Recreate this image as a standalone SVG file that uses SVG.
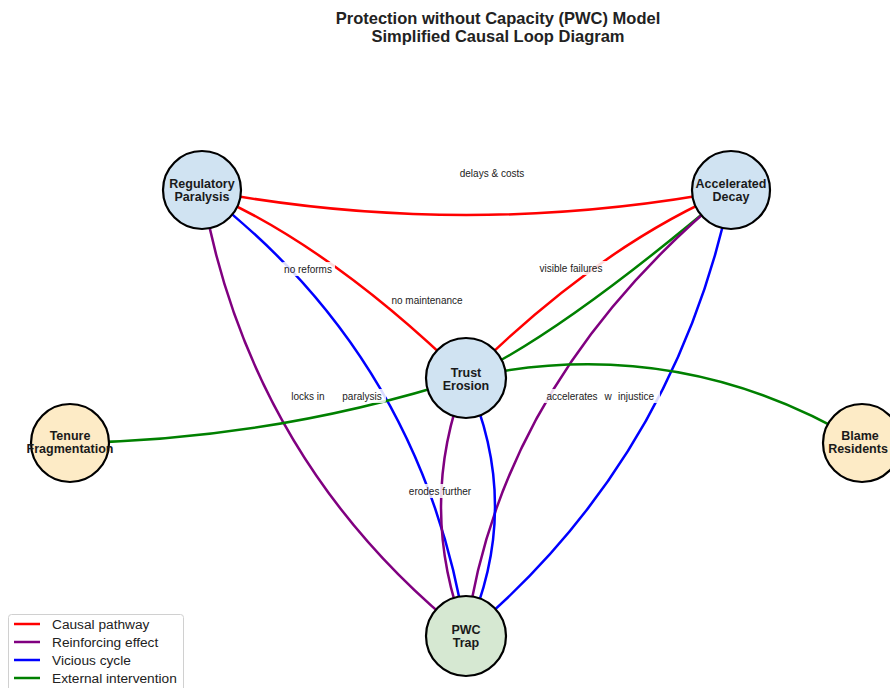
<svg xmlns="http://www.w3.org/2000/svg" width="890" height="688" viewBox="0 0 890 688">
<style>
.e{fill:none;stroke-width:2.5}
.red{stroke:#ff0000}.pur{stroke:#800080}.blu{stroke:#0000ff}.grn{stroke:#008000}
.lbl{font-family:"Liberation Sans",Arial,sans-serif;font-size:10px;fill:#222;text-anchor:middle}
.lb{fill:#fff;opacity:0.85}
.nc{stroke:#000;stroke-width:2.2}
.nt{font-family:"Liberation Sans",Arial,sans-serif;font-size:12.5px;font-weight:bold;fill:#1a1a1a;text-anchor:middle}
.blue{fill:#d0e3f2}.tan{fill:#fdebc6}.grnf{fill:#d6e8d2}
.title{font-family:"Liberation Sans",Arial,sans-serif;font-size:16.5px;font-weight:bold;fill:#222;text-anchor:middle}
.lg{font-family:"Liberation Sans",Arial,sans-serif;font-size:13.7px;fill:#222}
</style>
<rect width="890" height="688" fill="#fff"/>
<g id="title">
<text class="title" x="498" y="24">Protection without Capacity (PWC) Model</text>
<text class="title" x="498" y="42">Simplified Causal Loop Diagram</text>
</g>
<g id="connectors">
<path class="e red" d="M202,190 Q466,240 731,190"/>
<path class="e red" d="M202,190 Q330,245 466,378"/>
<path class="e red" d="M731,190 Q600,245 466,378"/>
<path class="e grn" d="M731,190 Q559,336 466,378"/>
<path class="e pur" d="M731,190 Q500,380 466,635"/>
<path class="e blu" d="M731,190 Q676,459 466,635"/>
<path class="e blu" d="M202,190 Q423.5,359.5 466,635"/>
<path class="e pur" d="M202,190 Q250,462.5 466,635"/>
<path class="e pur" d="M466,378 Q416,506 466,635"/>
<path class="e blu" d="M466,378 Q524,506 466,635"/>
<path class="e grn" d="M70,443 Q273,440 466,378"/>
<path class="e grn" d="M466,378 Q677,331.5 862,443"/>
</g>
<g id="labels">
<text class="lbl" x="492" y="177">delays &amp; costs</text>
<rect class="lb" x="281" y="262" width="54" height="14" rx="3"/>
<text class="lbl" x="308" y="272.5">no reforms</text>
<rect class="lb" x="388" y="293" width="78" height="14" rx="3"/>
<text class="lbl" x="427" y="303.5">no maintenance</text>
<rect class="lb" x="534" y="261" width="75" height="14" rx="3"/>
<text class="lbl" x="571" y="271.5">visible failures</text>
<rect class="lb" x="287" y="389" width="99" height="14" rx="3"/>
<text class="lbl" x="308" y="399.5">locks in</text>
<text class="lbl" x="362" y="399.5">paralysis</text>
<rect class="lb" x="542" y="389" width="118" height="14" rx="3"/>
<text class="lbl" x="572" y="399.5">accelerates</text>
<text class="lbl" x="608" y="399.5">w</text>
<text class="lbl" x="636" y="399.5">injustice</text>
<rect class="lb" x="404" y="484" width="72" height="14" rx="3"/>
<text class="lbl" x="440" y="494.5">erodes further</text>
</g>
<g id="node-regulatory-paralysis">
<circle class="nc blue" cx="202" cy="190" r="39"/>
<text class="nt" x="202" y="187.5">Regulatory</text>
<text class="nt" x="202" y="200.5">Paralysis</text>
</g>
<g id="node-accelerated-decay">
<circle class="nc blue" cx="731" cy="190" r="39"/>
<text class="nt" x="731" y="187.5">Accelerated</text>
<text class="nt" x="731" y="200.5">Decay</text>
</g>
<g id="node-trust-erosion">
<circle class="nc blue" cx="466" cy="378" r="40"/>
<text class="nt" x="466" y="377">Trust</text>
<text class="nt" x="466" y="390">Erosion</text>
</g>
<g id="node-tenure-fragmentation">
<circle class="nc tan" cx="70" cy="443" r="39"/>
<text class="nt" x="70" y="440">Tenure</text>
<text class="nt" x="70" y="453">Fragmentation</text>
</g>
<g id="node-blame-residents">
<circle class="nc tan" cx="862" cy="443" r="39"/>
<text class="nt" x="860" y="440">Blame</text>
<text class="nt" x="858" y="453">Residents</text>
</g>
<g id="node-pwc-trap">
<circle class="nc grnf" cx="466" cy="636" r="40"/>
<text class="nt" x="466" y="634">PWC</text>
<text class="nt" x="466" y="647">Trap</text>
</g>
<g id="legend">
<rect x="8.5" y="614.5" width="175" height="80" rx="3" fill="#fff" fill-opacity="0.85" stroke="#d0d0d0"/>
<line x1="14" y1="624" x2="40" y2="624" stroke="#ff0000" stroke-width="2.5"/>
<line x1="14" y1="642" x2="40" y2="642" stroke="#800080" stroke-width="2.5"/>
<line x1="14" y1="660" x2="40" y2="660" stroke="#0000ff" stroke-width="2.5"/>
<line x1="14" y1="678" x2="40" y2="678" stroke="#008000" stroke-width="2.5"/>
<text class="lg" x="52" y="628.5">Causal pathway</text>
<text class="lg" x="52" y="646.5">Reinforcing effect</text>
<text class="lg" x="52" y="664.5">Vicious cycle</text>
<text class="lg" x="52" y="682.5">External intervention</text>
</g>
</svg>
